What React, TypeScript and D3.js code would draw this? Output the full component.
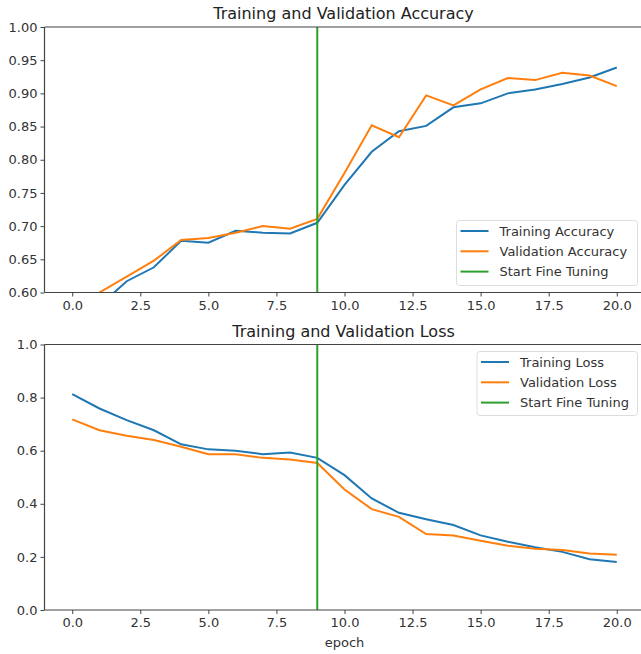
import React, { useEffect, useRef } from "react";
import * as d3 from "d3";

const epochs = d3.range(0, 21);
const trainAcc = [0.53, 0.58, 0.617, 0.638, 0.678, 0.675, 0.693, 0.69, 0.689, 0.705, 0.762, 0.812, 0.843, 0.851, 0.879, 0.885, 0.9, 0.906, 0.914, 0.924, 0.939];
const valAcc = [0.56, 0.6, 0.624, 0.648, 0.679, 0.682, 0.69, 0.7, 0.696, 0.711, 0.78, 0.852, 0.834, 0.897, 0.882, 0.906, 0.923, 0.92, 0.931, 0.927, 0.911];
const trainLoss = [0.813, 0.759, 0.715, 0.677, 0.624, 0.605, 0.6, 0.587, 0.593, 0.573, 0.508, 0.42, 0.366, 0.342, 0.32, 0.281, 0.257, 0.236, 0.219, 0.191, 0.181];
const valLoss = [0.718, 0.677, 0.656, 0.64, 0.615, 0.587, 0.587, 0.573, 0.567, 0.554, 0.454, 0.38, 0.351, 0.286, 0.281, 0.261, 0.242, 0.231, 0.226, 0.213, 0.208];
const fineTuneEpoch = 9;
const xTicks = [0, 2.5, 5, 7.5, 10, 12.5, 15, 17.5, 20];
const accTicks = [0.6, 0.65, 0.7, 0.75, 0.8, 0.85, 0.9, 0.95, 1.0];
const lossTicks = [0, 0.2, 0.4, 0.6, 0.8, 1.0];

const BLUE = "#1f77b4";
const ORANGE = "#ff7f0e";
const GREEN = "#2ca02c";
const FONT = "DejaVu Sans, sans-serif";

export default function App() {
  const ref = useRef<SVGSVGElement>(null);

  useEffect(() => {
    const svg = d3.select(ref.current);
    svg.selectAll("*").remove();

    const x = d3.scaleLinear().domain([-1, 21]).range([45, 644]);

    function panel(opts: {
      top: number; bottom: number; domain: [number, number]; ticks: number[]; fmt: string;
      title: string; a: number[]; b: number[]; names: string[]; legend: { x: number; y: number; w: number; h: number };
    }) {
      const y = d3.scaleLinear().domain(opts.domain).range([opts.bottom, opts.top]);
      const g = svg.append("g");
      const clipId = "clip" + Math.round(opts.top);
      g.append("clipPath").attr("id", clipId).append("rect")
        .attr("x", 45).attr("y", opts.top).attr("width", 600).attr("height", opts.bottom - opts.top);

      const plot = g.append("g").attr("clip-path", `url(#${clipId})`);
      const line = d3.line<number>().x((_, i) => x(epochs[i])).y(d => y(d));
      plot.append("path").datum(opts.a).attr("d", line).attr("fill", "none").attr("stroke", BLUE).attr("stroke-width", 2);
      plot.append("path").datum(opts.b).attr("d", line).attr("fill", "none").attr("stroke", ORANGE).attr("stroke-width", 2);
      plot.append("line").attr("x1", x(fineTuneEpoch)).attr("x2", x(fineTuneEpoch))
        .attr("y1", opts.top).attr("y2", opts.bottom).attr("stroke", GREEN).attr("stroke-width", 2);

      // spines
      g.append("line").attr("x1", 44.5).attr("x2", 44.5).attr("y1", opts.top).attr("y2", opts.bottom).attr("stroke", "#444").attr("stroke-width", 1.2);
      g.append("line").attr("x1", 44.5).attr("x2", 641).attr("y1", opts.top).attr("y2", opts.top).attr("stroke", "#444").attr("stroke-width", 1.2);
      g.append("line").attr("x1", 44.5).attr("x2", 641).attr("y1", opts.bottom).attr("y2", opts.bottom).attr("stroke", "#444").attr("stroke-width", 1.2);

      const xa = g.append("g").attr("transform", `translate(0,${opts.bottom})`)
        .call(d3.axisBottom(x).tickValues(xTicks).tickFormat(d3.format(".1f")).tickSize(4).tickPadding(4));
      const ya = g.append("g").attr("transform", `translate(44.5,0)`)
        .call(d3.axisLeft(y).tickValues(opts.ticks).tickFormat(d3.format(opts.fmt)).tickSize(4).tickPadding(3));
      [xa, ya].forEach(a => {
        a.select(".domain").remove();
        a.selectAll("line").attr("stroke", "#444");
        a.selectAll("text").attr("font-family", FONT).attr("font-size", 13).attr("fill", "#333");
      });

      g.append("text").attr("x", 343.5).attr("y", opts.top - 8).attr("text-anchor", "middle")
        .attr("font-family", FONT).attr("font-size", 16).attr("fill", "#222").text(opts.title);

      const L = opts.legend;
      const lg = g.append("g").attr("transform", `translate(${L.x},${L.y})`);
      lg.append("rect").attr("width", L.w).attr("height", L.h).attr("rx", 3)
        .attr("fill", "white").attr("fill-opacity", 0.8).attr("stroke", "#ddd");
      [BLUE, ORANGE, GREEN].forEach((c, i) => {
        const cy = 10.5 + i * 20.3;
        lg.append("line").attr("x1", 4).attr("x2", 32).attr("y1", cy).attr("y2", cy).attr("stroke", c).attr("stroke-width", 2);
        lg.append("text").attr("x", 43).attr("y", cy).attr("dy", "0.35em")
          .attr("font-family", FONT).attr("font-size", 13).attr("fill", "#333").text(opts.names[i]);
      });
    }

    panel({
      top: 27, bottom: 292.5, domain: [0.6, 1.0], ticks: accTicks, fmt: ".2f",
      title: "Training and Validation Accuracy", a: trainAcc, b: valAcc,
      names: ["Training Accuracy", "Validation Accuracy", "Start Fine Tuning"],
      legend: { x: 456.5, y: 220.5, w: 181, h: 65 },
    });
    panel({
      top: 344.5, bottom: 610, domain: [0, 1.0], ticks: lossTicks, fmt: ".1f",
      title: "Training and Validation Loss", a: trainLoss, b: valLoss,
      names: ["Training Loss", "Validation Loss", "Start Fine Tuning"],
      legend: { x: 477, y: 351.5, w: 160.5, h: 64 },
    });

    svg.append("text").attr("x", x(10)).attr("y", 647).attr("text-anchor", "middle")
      .attr("font-family", FONT).attr("font-size", 13).attr("fill", "#333").text("epoch");
  }, []);

  return (
    <svg ref={ref} width={641} height={654} style={{ position: "absolute", left: 0, top: 0, background: "white" }} />
  );
}
